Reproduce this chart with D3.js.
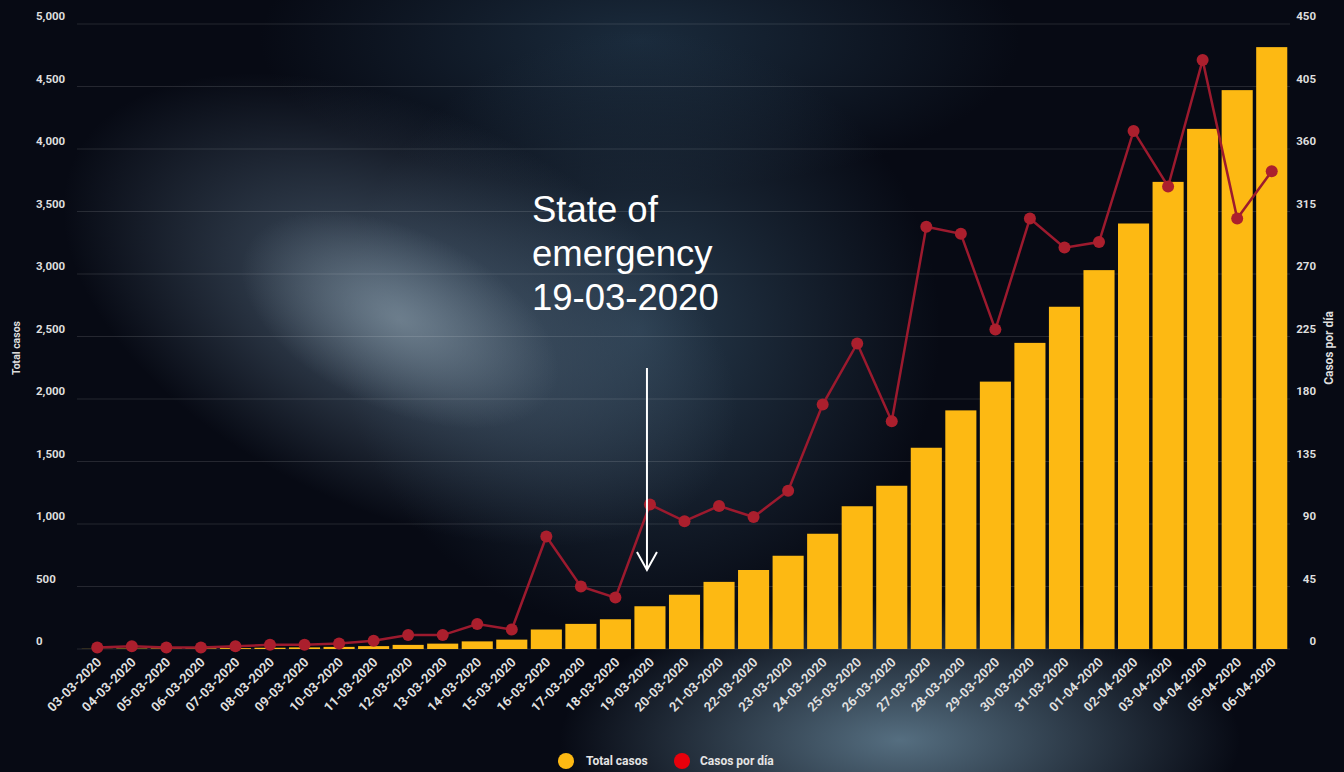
<!DOCTYPE html>
<html>
<head>
<meta charset="utf-8">
<script src="https://cdn.jsdelivr.net/npm/d3@7"></script>
<style>
  html, body { margin: 0; padding: 0; background: #070a14; }
  svg { display: block; }
</style>
</head>
<body>
<svg id="chart" width="1344" height="772"></svg>
<script>
// dates on the x axis
const dates = ["03-03-2020","04-03-2020","05-03-2020","06-03-2020","07-03-2020","08-03-2020",
  "09-03-2020","10-03-2020","11-03-2020","12-03-2020","13-03-2020","14-03-2020","15-03-2020",
  "16-03-2020","17-03-2020","18-03-2020","19-03-2020","20-03-2020","21-03-2020","22-03-2020",
  "23-03-2020","24-03-2020","25-03-2020","26-03-2020","27-03-2020","28-03-2020","29-03-2020",
  "30-03-2020","31-03-2020","01-04-2020","02-04-2020","03-04-2020","04-04-2020","05-04-2020",
  "06-04-2020"];

// bars, left axis
const totalCasos = [1, 3, 4, 5, 7, 10, 13, 17, 23, 33, 43, 61, 75, 156, 201, 238, 342, 434,
  537, 632, 746, 922, 1142, 1306, 1610, 1909, 2139, 2449, 2738, 3031, 3404, 3737, 4161, 4471, 4815];

// line, right axis
const casosPorDia = [1, 2, 1, 1, 2, 3, 3, 4, 6, 10, 10, 18, 14, 81, 45, 37, 104, 92, 103, 95,
  114, 176, 220, 164, 304, 299, 230, 310, 289, 293, 373, 333, 424, 310, 344];

const leftTicks = [0, 500, 1000, 1500, 2000, 2500, 3000, 3500, 4000, 4500, 5000];
const rightTicks = [0, 45, 90, 135, 180, 225, 270, 315, 360, 405, 450];

const annotationLines = ["State of", "emergency", "19-03-2020"];
const annotationDate = "19-03-2020";

const svg = d3.select("#chart");
const W = 1344, H = 772;

// background glows, each one a soft radial gradient
const defs = svg.append("defs");
function glow(id, color, alpha) {
  const g = defs.append("radialGradient").attr("id", id);
  g.append("stop").attr("offset", "0%").attr("stop-color", color).attr("stop-opacity", alpha);
  g.append("stop").attr("offset", "45%").attr("stop-color", color).attr("stop-opacity", alpha * 0.55);
  g.append("stop").attr("offset", "100%").attr("stop-color", color).attr("stop-opacity", 0);
}
glow("gTop", "#1f3346", 0.8);
glow("gMid", "#2a3f52", 0.9);
glow("gLeft", "#52667a", 0.85);
glow("gCore", "#7d8e9b", 0.7);
glow("gBottom", "#556e80", 1);

svg.append("rect").attr("width", W).attr("height", H).attr("fill", "#070a14");
const bg = svg.append("g");
bg.append("ellipse").attr("cx", 640).attr("cy", 40).attr("rx", 380).attr("ry", 150).attr("fill", "url(#gTop)");
bg.append("ellipse").attr("cx", 640).attr("cy", 330).attr("rx", 300).attr("ry", 300).attr("fill", "url(#gMid)");
bg.append("ellipse").attr("cx", 400).attr("cy", 310).attr("rx", 360).attr("ry", 200)
  .attr("transform", "rotate(25 400 310)").attr("fill", "url(#gLeft)");
bg.append("ellipse").attr("cx", 400).attr("cy", 320).attr("rx", 170).attr("ry", 90)
  .attr("transform", "rotate(25 400 320)").attr("fill", "url(#gCore)");
bg.append("ellipse").attr("cx", 900).attr("cy", 740).attr("rx", 340).attr("ry", 140).attr("fill", "url(#gBottom)");

// scales
const x = d3.scaleBand().domain(dates).range([80, 1289]).paddingInner(0.1).paddingOuter(0.05);
const yL = d3.scaleLinear().domain([0, 5000]).range([649, 24]);
const yR = d3.scaleLinear().domain([0, 450]).range([649, 24]);

// grid
svg.append("g").selectAll("line").data(leftTicks).join("line")
  .attr("x1", 77).attr("x2", 1290)
  .attr("y1", d => yL(d)).attr("y2", d => yL(d))
  .attr("stroke", "rgba(255,255,255,0.12)").attr("stroke-width", 1);

// left axis labels
const fmt = d3.format(",");
svg.append("g").selectAll("text").data(leftTicks).join("text")
  .attr("x", 36).attr("y", d => yL(d) - 8)
  .attr("dy", "0.35em")
  .attr("fill", "#dedede").attr("font-family", "Roboto, sans-serif")
  .attr("font-weight", "bold").attr("font-size", 11.5)
  .text(d => fmt(d));

// right axis labels
svg.append("g").selectAll("text").data(rightTicks).join("text")
  .attr("x", 1316).attr("y", d => yR(d) - 8)
  .attr("dy", "0.35em").attr("text-anchor", "end")
  .attr("fill", "#dedede").attr("font-family", "Roboto, sans-serif")
  .attr("font-weight", "bold").attr("font-size", 11.5)
  .text(d => d);

// axis titles
svg.append("text").attr("transform", "translate(20,348) rotate(-90)")
  .attr("text-anchor", "middle").attr("fill", "#dedede")
  .attr("font-family", "Roboto, sans-serif").attr("font-weight", "bold").attr("font-size", 10.5)
  .text("Total casos");
svg.append("text").attr("transform", "translate(1333,348) rotate(-90)")
  .attr("text-anchor", "middle").attr("fill", "#dedede")
  .attr("font-family", "Roboto, sans-serif").attr("font-weight", "bold").attr("font-size", 12)
  .text("Casos por día");

// bars
svg.append("g").selectAll("rect").data(dates).join("rect")
  .attr("x", d => x(d))
  .attr("y", (d, i) => yL(totalCasos[i]))
  .attr("width", x.bandwidth())
  .attr("height", (d, i) => yL(0) - yL(totalCasos[i]))
  .attr("fill", "#fdb913");

// line
const cx = d => x(d) + x.bandwidth() / 2;
const line = d3.line().x(d => cx(d)).y((d, i) => yR(casosPorDia[i]));
svg.append("path").datum(dates)
  .attr("d", line)
  .attr("fill", "none").attr("stroke", "#9c1a2e").attr("stroke-width", 2.5);
svg.append("g").selectAll("circle").data(dates).join("circle")
  .attr("cx", d => cx(d))
  .attr("cy", (d, i) => yR(casosPorDia[i]))
  .attr("r", 6).attr("fill", "#ab1f2d");

// x labels
svg.append("g").selectAll("text").data(dates).join("text")
  .attr("transform", d => `translate(${cx(d) + 5},${663}) rotate(-45)`)
  .attr("text-anchor", "end")
  .attr("fill", "#dedede").attr("font-family", "Roboto, sans-serif")
  .attr("font-weight", "bold").attr("font-size", 13)
  .text(d => d);

// legend
const legend = svg.append("g");
legend.append("circle").attr("cx", 566).attr("cy", 761).attr("r", 8).attr("fill", "#fdb913");
legend.append("text").attr("x", 586).attr("y", 761).attr("dy", "0.35em")
  .attr("fill", "#e4e4e4").attr("font-family", "Roboto, sans-serif")
  .attr("font-weight", "bold").attr("font-size", 12).text("Total casos");
legend.append("circle").attr("cx", 682).attr("cy", 761).attr("r", 8).attr("fill", "#e8000b");
legend.append("text").attr("x", 700).attr("y", 761).attr("dy", "0.35em")
  .attr("fill", "#e4e4e4").attr("font-family", "Roboto, sans-serif")
  .attr("font-weight", "bold").attr("font-size", 12).text("Casos por día");

// annotation
const ann = svg.append("g");
ann.selectAll("text").data(annotationLines).join("text")
  .attr("x", 532).attr("y", (d, i) => 222 + i * 44)
  .attr("fill", "#ffffff").attr("font-family", "Liberation Sans, Arial, sans-serif")
  .attr("font-size", 36.5)
  .text(d => d);
const ax = cx(annotationDate) - 3;
ann.append("line").attr("x1", ax).attr("x2", ax).attr("y1", 368).attr("y2", 570)
  .attr("stroke", "#ffffff").attr("stroke-width", 2);
ann.append("path")
  .attr("d", `M${ax - 10},552 L${ax},570 L${ax + 10},552`)
  .attr("fill", "none").attr("stroke", "#ffffff").attr("stroke-width", 2);
</script>
</body>
</html>
